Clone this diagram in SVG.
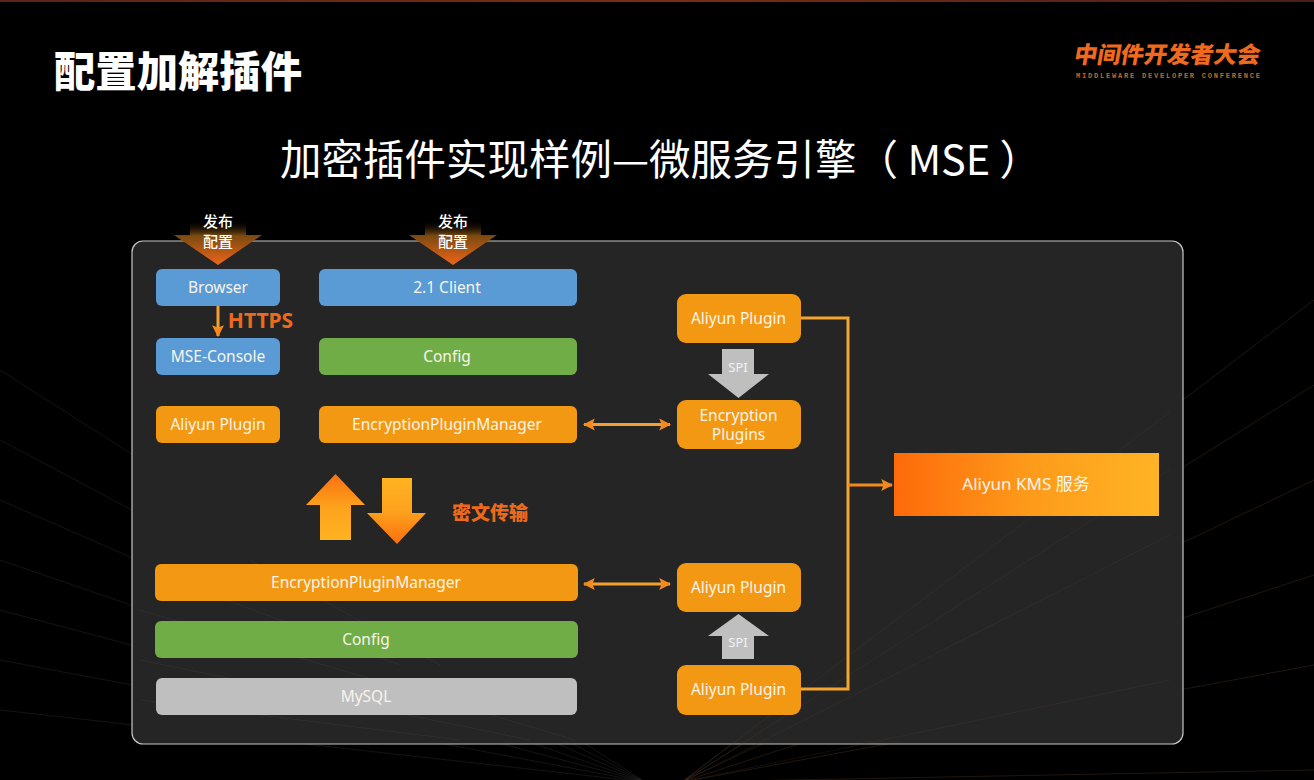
<svg xmlns="http://www.w3.org/2000/svg" width="1314" height="780" viewBox="0 0 1314 780">
<defs>
<style>
text{font-family:"Noto Sans","Noto Sans CJK SC",sans-serif;fill:#fff;text-anchor:middle}
.l{font-size:15.5px;fill:#f8f4ea}
.blue{fill:#5b9bd5}.green{fill:#70ad47}.or{fill:#f39813}.gray{fill:#bfbfbf}
.fanR line{stroke:#6b4a35;stroke-width:1;opacity:.3}
.fanL line{stroke:#5a5a5a;stroke-width:1;opacity:.22}
.conn{fill:none;stroke:#f4a52f;stroke-width:3}
.spi{fill:#bfbfbf}
.hot{fill:#ed6a1c;font-weight:700}
</style>
<linearGradient id="dn" x1="0" y1="0" x2="0" y2="1"><stop offset="0" stop-color="#000" stop-opacity="0"/><stop offset=".35" stop-color="#7a4a10"/><stop offset="1" stop-color="#f0651a"/></linearGradient>
<linearGradient id="upG" x1="0" y1="1" x2="0" y2="0"><stop offset="0" stop-color="#ffb321"/><stop offset=".5" stop-color="#fda21d"/><stop offset="1" stop-color="#fb6f10"/></linearGradient>
<linearGradient id="dnG" x1="0" y1="0" x2="0" y2="1"><stop offset="0" stop-color="#ffb321"/><stop offset=".5" stop-color="#fda21d"/><stop offset="1" stop-color="#fb6f10"/></linearGradient>
<linearGradient id="kms" x1="0" y1="0" x2="1" y2="0"><stop offset="0" stop-color="#fd6a0a"/><stop offset=".5" stop-color="#fd9a1a"/><stop offset="1" stop-color="#ffb424"/></linearGradient>
<linearGradient id="top" x1="0" y1="0" x2="1" y2="0"><stop offset="0" stop-color="#5a2417"/><stop offset=".5" stop-color="#7a2c1a"/><stop offset="1" stop-color="#4a2016"/></linearGradient>
<marker id="ah" viewBox="0 0 10 10" refX="9" refY="5" markerWidth="4" markerHeight="4.4" orient="auto-start-reverse"><path d="M0 0L10 5L0 10L2 5Z" fill="#f48a1e"/></marker>
</defs>
<rect width="1314" height="780" fill="#000"/>
<rect width="1314" height="2" fill="url(#top)"/>
<g class="fanR">
<line x1="682" y1="782" x2="1314" y2="300"/><line x1="682" y1="782" x2="1314" y2="385"/><line x1="682" y1="782" x2="1314" y2="480"/><line x1="682" y1="782" x2="1314" y2="575"/><line x1="682" y1="782" x2="1314" y2="665"/><line x1="682" y1="782" x2="1314" y2="770"/>
</g>
<g class="fanL">
<line x1="645" y1="782" x2="0" y2="370"/><line x1="645" y1="782" x2="0" y2="440"/><line x1="645" y1="782" x2="0" y2="500"/><line x1="645" y1="782" x2="0" y2="560"/><line x1="645" y1="782" x2="0" y2="610"/><line x1="645" y1="782" x2="0" y2="660"/><line x1="645" y1="782" x2="0" y2="710"/>
</g>
<text x="178" y="87" style="font-size:42px;font-weight:900;font-family:'Noto Sans CJK SC',sans-serif" textLength="248" lengthAdjust="spacingAndGlyphs">配置加解插件</text>
<text x="280" y="175" style="font-size:41.500px;text-anchor:start;font-family:'Noto Sans CJK SC',sans-serif" xml:space="preserve">加密插件实现样例—微服务引擎（ MSE ）</text>
<g id="logo">
<text x="1168" y="63" transform="translate(9 0) skewX(-10)" style="font-size:23px;font-weight:900;fill:#ee6a1e;font-family:'Noto Sans CJK SC',sans-serif" textLength="186" lengthAdjust="spacingAndGlyphs">中间件开发者大会</text>
<text x="1168" y="78" style="font-size:7px;font-weight:700;fill:#c9642a;font-family:'Liberation Mono',monospace" textLength="184">MIDDLEWARE DEVELOPER CONFERENCE</text>
</g>
<rect x="132" y="241" width="1051" height="503" rx="11" fill="#262626" fill-opacity=".97" stroke="#c8c8c8" stroke-width="1.2"/>
<g class="fanR" style="opacity:.6">
<line x1="682" y1="782" x2="1170" y2="412"/><line x1="682" y1="782" x2="1170" y2="470"/><line x1="682" y1="782" x2="1170" y2="535"/><line x1="682" y1="782" x2="1170" y2="680"/>
</g>
<g class="fanL" style="opacity:.8">
<line x1="575" y1="740" x2="140" y2="610"/><line x1="530" y1="740" x2="140" y2="660"/><line x1="460" y1="740" x2="140" y2="700"/><line x1="440" y1="665" x2="250" y2="560"/><line x1="400" y1="665" x2="200" y2="590"/>
</g>
<g id="pub1"><path d="M190 220H246V235H262L218 265L174 235H190Z" fill="url(#dn)"/><text x="218" y="227" style="font-size:15px;font-weight:500">发布</text><text x="218" y="247" style="font-size:15px;font-weight:500">配置</text></g>
<g id="pub2"><path d="M425 220H481V235H497L453 265L409 235H425Z" fill="url(#dn)"/><text x="453" y="227" style="font-size:15px;font-weight:500">发布</text><text x="453" y="247" style="font-size:15px;font-weight:500">配置</text></g>
<g id="browser"><rect class="blue" x="156" y="269" width="124" height="37" rx="6"/><text class="l" x="218" y="292.500">Browser</text></g>
<g id="client"><rect class="blue" x="319" y="269" width="258" height="37" rx="6"/><text class="l" x="447" y="292.500">2.1 Client</text></g>
<g id="console"><rect class="blue" x="156" y="338" width="124" height="37" rx="6"/><text class="l" x="218" y="361.500">MSE-Console</text></g>
<g id="config1"><rect class="green" x="319" y="338" width="258" height="37" rx="6"/><text class="l" x="447" y="361.500">Config</text></g>
<g id="plugin0"><rect class="or" x="156" y="406" width="124" height="37" rx="6"/><text class="l" x="218" y="429.500">Aliyun Plugin</text></g>
<g id="epm1"><rect class="or" x="319" y="406" width="258" height="37" rx="6"/><text class="l" x="447" y="429.500">EncryptionPluginManager</text></g>
<g id="plugin1"><rect class="or" x="677" y="294" width="124" height="49" rx="9"/><text class="l" x="738.500" y="323.500">Aliyun Plugin</text></g>
<g id="encplugins"><rect class="or" x="677" y="400" width="124" height="49" rx="9"/><text class="l" x="738.500" y="420.500">Encryption</text><text class="l" x="738.500" y="440">Plugins</text></g>
<g id="kmsnode"><rect x="894" y="453" width="265" height="63" fill="url(#kms)"/><text x="1026" y="490" style="font-size:17px;fill:#f8f4ea">Aliyun KMS 服务</text></g>
<g id="epm2"><rect class="or" x="155" y="564" width="423" height="37" rx="6"/><text class="l" x="366" y="587.500">EncryptionPluginManager</text></g>
<g id="config2"><rect class="green" x="155" y="621" width="423" height="37" rx="6"/><text class="l" x="366" y="644.500">Config</text></g>
<g id="mysql"><rect class="gray" x="156" y="678" width="421" height="37" rx="6"/><text class="l" x="366" y="701.500">MySQL</text></g>
<g id="plugin2"><rect class="or" x="677" y="563" width="124" height="49" rx="9"/><text class="l" x="738.500" y="592.500">Aliyun Plugin</text></g>
<g id="plugin3"><rect class="or" x="677" y="665" width="124" height="50" rx="9"/><text class="l" x="738.500" y="694.500">Aliyun Plugin</text></g>
<g id="connectors">
<path class="conn" d="M801 318H848V689H801"/>
<path d="M848 485H892" fill="none" stroke="#f48a1e" stroke-width="3" marker-end="url(#ah)"/>
<path d="M584 424.500H670" fill="none" stroke="#f4a030" stroke-width="3" marker-start="url(#ah)" marker-end="url(#ah)"/>
<path d="M584 584H670" fill="none" stroke="#f4a030" stroke-width="3" marker-start="url(#ah)" marker-end="url(#ah)"/>
<path d="M218 306V336" fill="none" stroke="#f4a030" stroke-width="3" marker-end="url(#ah)"/>
<path class="spi" d="M722 349H754V374H769L738.500 398L708 374H722Z"/>
<path class="spi" d="M722 659V636H708L738.500 614L769 636H754V659Z"/>
<path d="M320 540V505H306L335.500 474L365 505H351V540Z" fill="url(#upG)"/>
<path d="M382 478H412V513H426L397 544L367 513H382Z" fill="url(#dnG)"/>
</g>
<text x="738" y="372" style="font-size:13px;fill:#f2f2f2">SPI</text>
<text x="738" y="647" style="font-size:13px;fill:#f2f2f2">SPI</text>
<text class="hot" x="260.500" y="328" style="font-size:21px">HTTPS</text>
<text class="hot" x="490" y="520" style="font-size:19px;font-weight:900;font-family:'Noto Sans CJK SC',sans-serif">密文传输</text>
</svg>
